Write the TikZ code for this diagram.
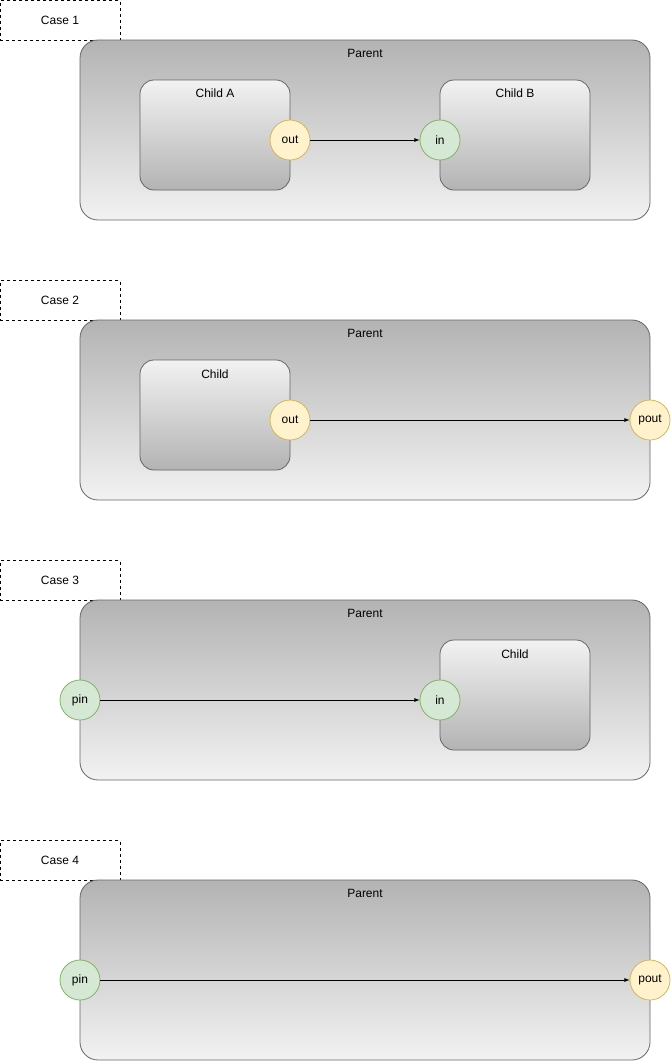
\documentclass[tikz,border=0pt]{standalone}
\usepackage{fontspec}
\setmainfont{Liberation Sans}
\usepackage{tikz}

\definecolor{darkgray}{HTML}{B3B3B3}
\definecolor{lightgray}{HTML}{F2F2F2}
\definecolor{boxline}{HTML}{666666}
\definecolor{outfill}{HTML}{FFF2CC}
\definecolor{outline}{HTML}{D6B656}
\definecolor{infill}{HTML}{D5E8D4}
\definecolor{inline}{HTML}{82B366}

\tikzset{
    casebox/.style={draw=black, dashed, line width=0.8pt, minimum width=120pt, minimum height=40pt, inner sep=0pt},
    parentbox/.style={draw=boxline, line width=0.8pt, rounded corners=18pt, top color=darkgray, bottom color=lightgray, minimum width=570pt, minimum height=180pt, inner sep=0pt},
    childbox/.style={draw=boxline, line width=0.8pt, rounded corners=14pt, top color=lightgray, bottom color=darkgray, minimum width=150pt, minimum height=110pt, inner sep=0pt},
    outport/.style={circle, draw=outline, fill=outfill, line width=0.8pt, minimum size=40pt, inner sep=0pt},
    inport/.style={circle, draw=inline, fill=infill, line width=0.8pt, minimum size=40pt, inner sep=0pt},
    toplabel/.style={label={[anchor=north, inner sep=0pt, yshift=-9.5pt]north:#1}},
    wire/.style={-latex, line width=0.8pt, black}
}

\begin{document}
\begin{tikzpicture}[x=1pt, y=-1pt, font=\fontsize{12}{14}\selectfont]
        \useasboundingbox (0, 0) rectangle (671, 1061);
        % case 1
        \node[casebox](case1)at(60,20.5){Case 1};
        \node[parentbox, toplabel=Parent](parent1)at(365,130){};
        \node[childbox, toplabel=Child A](childA)at(215,135){};
        \node[childbox, toplabel=Child B](childB)at(515,135){};
        \node[outport](out1)at(290,140){out};
        \node[inport](in1)at(440,140){in};
        \draw[wire] (out1) -- (in1);
        % case 2
        \node[casebox](case2)at(60,300.5){Case 2};
        \node[parentbox, toplabel=Parent](parent2)at(365,410){};
        \node[childbox, toplabel=Child](child2)at(215,415){};
        \node[outport](out2)at(290,420){out};
        \node[outport](pout2)at(650,420){pout};
        \draw[wire] (out2) -- (pout2);
        % case 3
        \node[casebox](case3)at(60,580.5){Case 3};
        \node[parentbox, toplabel=Parent](parent3)at(365,690){};
        \node[childbox, toplabel=Child](child3)at(515,695){};
        \node[inport](pin3)at(80,700){pin};
        \node[inport](in3)at(440,700){in};
        \draw[wire] (pin3) -- (in3);
        % case 4
        \node[casebox](case4)at(60,860.5){Case 4};
        \node[parentbox, toplabel=Parent](parent4)at(365,970){};
        \node[inport](pin4)at(80,980){pin};
        \node[outport](pout4)at(650,980){pout};
        \draw[wire] (pin4) -- (pout4);
    \end{tikzpicture}
\end{document}
